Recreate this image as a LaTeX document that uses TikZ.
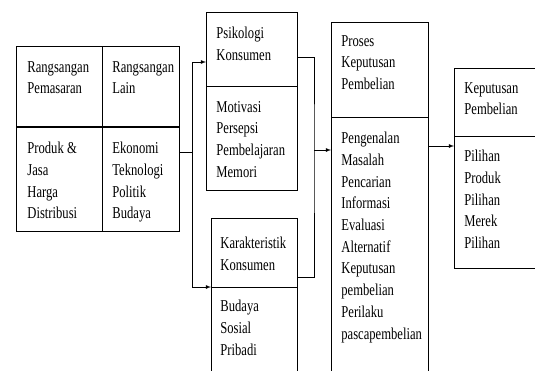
\documentclass[tikz,border=0pt]{standalone}
\usepackage{fontspec}
\setmainfont{Liberation Serif}[FakeStretch=0.76]
\begin{document}
\begin{tikzpicture}[>=latex, x=1pt, y=-1pt, line width=0.8pt,
    vak/.style={draw, anchor=north west, inner sep=0pt},
    tekst/.style={anchor=north west, align=left, inner sep=0pt, yshift=11.2pt,
      font=\fontsize{16.6}{21.7}\selectfont}]

  % Rand van de figuur
  \useasboundingbox (0,0) rectangle (535,370);
  \clip (0,0) rectangle (535,370);

  % Rangsangan
  \node[vak, minimum width=163pt, minimum height=185pt] (rangsang) at (16,46) {};
  \draw (102,46) -- (102,231);
  \draw[line width=1.6pt] (16,127) -- (179,127);
  \node[tekst] (pemasaran) at (27,72) {Rangsangan\\Pemasaran};
  \node[tekst] (lain) at (112,72) {Rangsangan\\Lain};
  \node[tekst] (produk) at (27,153) {Produk \&\\Jasa\\Harga\\Distribusi};
  \node[tekst] (ekonomi) at (112,153) {Ekonomi\\Teknologi\\Politik\\Budaya};

  % Psikologi konsumen
  \node[vak, minimum width=91pt, minimum height=178pt] (psikologi) at (206,12) {};
  \draw (206,86) -- (297,86);
  \node[tekst] (psikkop) at (216,38) {Psikologi\\Konsumen};
  \node[tekst] (motivasi) at (216,112) {Motivasi\\Persepsi\\Pembelajaran\\Memori};

  % Karakteristik konsumen
  \node[vak, minimum width=86pt, minimum height=69pt] (karakter) at (211,218) {};
  \node[vak, minimum width=86pt, minimum height=90pt] (budaya) at (211,287) {};
  \node[tekst] (karakkop) at (220,248) {Karakteristik\\Konsumen};
  \node[tekst] (sosial) at (220,311) {Budaya\\Sosial\\Pribadi};

  % Proses keputusan pembelian
  \node[vak, minimum width=97pt, minimum height=355pt] (proses) at (331,22) {};
  \draw (331,117) -- (428,117);
  \node[tekst] (proseskop) at (341,46) {Proses\\Keputusan\\Pembelian};
  \node[tekst] (tahap) at (341,143) {Pengenalan\\Masalah\\Pencarian\\Informasi\\Evaluasi\\Alternatif\\Keputusan\\pembelian\\Perilaku\\pascapembelian};

  % Keputusan pembelian
  \node[vak, minimum width=90pt, minimum height=200pt] (keputusan) at (454,68) {};
  \draw (454,136) -- (544,136);
  \node[tekst] (keputkop) at (464,93) {Keputusan\\Pembelian};
  \node[tekst] (pilihan) at (464,161) {Pilihan\\Produk\\Pilihan\\Merek\\Pilihan};

  % Verbindingen
  \coordinate (splitL) at (192,152);
  \coordinate (splitR) at (314,150);
  \draw (rangsang.east |- splitL) -- (splitL);
  \draw (splitL |- 0,62) -- (splitL |- 0,287);
  \draw[->] (splitL |- 0,62) -- (psikologi.west |- 0,62);
  \draw[->] (splitL |- 0,287) -- (budaya.north west);
  \draw (psikologi.east |- 0,57) -| (splitR) |- (karakter.east |- 0,277);
  \draw[->] (splitR) -- (proses.west |- splitR);
  \draw[->] (proses.east |- 0,146) -- (keputusan.west |- 0,146);

\end{tikzpicture}
\end{document}
